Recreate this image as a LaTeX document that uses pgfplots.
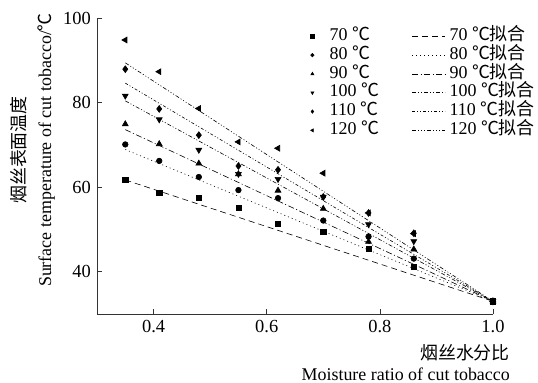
\documentclass[border=0pt]{standalone}
\usepackage{pgfplots}
\pgfplotsset{compat=1.18}
\usepackage{fontspec}
\setmainfont{Liberation Serif}
\newfontfamily\cjk{Noto Sans CJK SC}
\newcommand{\dc}{{\cjk ℃}}
\newcommand{\fit}{{\cjk ℃拟合}}
\begin{document}
\fontsize{18}{20}\selectfont
\begin{tikzpicture}
\pgfplotsset{
  markleg/.style={legend image code/.code={\draw[##1,mark size=1.7bp] plot coordinates {(6bp,0bp)}; \path (0bp,0bp) (19bp,0bp);}},
  lineleg/.style={legend image code/.code={\draw[##1] (0bp,0bp) -- (33bp,0bp);}},
}
\begin{axis}[
  name=ax,
  scale only axis, width=396bp, height=296bp,
  xmin=0.3, xmax=1.0, ymin=30, ymax=100,
  axis lines=left, axis line style={-, line width=0.7bp, black!80},
  xtick={0.4,0.6,0.8,1.0}, ytick={40,60,80,100},
  tick align=inside, major tick length=5bp,
  tick style={line width=0.7bp, black!80},
  xticklabel style={/pgf/number format/.cd, fixed, fixed zerofill, precision=1},
  /pgf/number format/assume math mode=true,
  tick label style={font=\fontsize{18.5}{20}\selectfont},
  xlabel={{\cjk 烟丝水分比}\\Moisture ratio of cut tobacco},
  xlabel style={at={(rel axis cs:1,0)}, anchor=north east, align=right, xshift=23bp, yshift=-24bp, font=\fontsize{18}{21}\selectfont},
  ylabel={{\cjk 烟丝表面温度}\\Surface temperature of cut tobacco/\dc},
  ylabel style={at={(rel axis cs:0,0.554)}, anchor=south, align=center, rotate=0, yshift=36bp, font=\fontsize{18}{26}\selectfont},
  legend columns=2,
  legend cell align=left,
  legend style={at={(rel axis cs:0.52,0.975)}, anchor=north west, draw=none, fill=none,
    font=\fontsize{18}{20}\selectfont, row sep=1.3bp, column sep=3bp,
    nodes={inner sep=1bp, text height=12bp, text depth=3.5bp},
    /tikz/every even column/.append style={column sep=32bp}},
  every axis plot/.append style={black, line width=0.6bp},
]
% 70
\addplot[only marks, mark=square*, mark size=2.6bp, markleg] coordinates {
(0.35,61.7)(0.41,58.7)(0.48,57.5)(0.55,55.2)(0.62,51.3)(0.70,49.5)(0.78,45.4)(0.86,41.2)(1.0,33)};
\addlegendentry{70 \dc}
\addplot[lineleg, dash pattern=on 6bp off 4bp] coordinates {(0.35,61.7)(1.0,33)};
\addlegendentry{70 \fit}
% 80
\addplot[only marks, mark=*, mark size=2.8bp, markleg] coordinates {
(0.35,70.1)(0.41,66.2)(0.48,62.4)(0.55,59.3)(0.62,57.4)(0.70,52.1)(0.78,48.3)(0.86,43.1)(1.0,33)};
\addlegendentry{80 \dc}
\addplot[lineleg, dash pattern=on 1bp off 3bp] coordinates {(0.35,68.9)(1.0,33)};
\addlegendentry{80 \fit}
% 90
\addplot[only marks, mark=triangle*, mark size=3.4bp, markleg] coordinates {
(0.35,74.9)(0.41,70.2)(0.48,65.6)(0.55,63.1)(0.62,59.2)(0.70,54.9)(0.78,47.1)(0.86,45.3)(1.0,33)};
\addlegendentry{90 \dc}
\addplot[lineleg, dash pattern=on 6bp off 2.5bp on 1bp off 2.5bp] coordinates {(0.35,73.6)(1.0,33)};
\addlegendentry{90 \fit}
% 100
\addplot[only marks, mark=triangle*, mark options={rotate=180}, mark size=3.4bp, markleg] coordinates {
(0.35,81.6)(0.41,76.0)(0.48,68.8)(0.55,63.1)(0.62,61.9)(0.70,57.7)(0.78,51.2)(0.86,47.2)(1.0,33)};
\addlegendentry{100 \dc}
\addplot[lineleg, dash pattern=on 4bp off 2bp on 1bp off 2bp on 1bp off 2bp] coordinates {(0.35,80.4)(1.0,33)};
\addlegendentry{100 \fit}
% 110
\addplot[only marks, mark=diamond*, mark size=3.4bp, markleg] coordinates {
(0.35,87.9)(0.41,78.5)(0.48,72.3)(0.55,65.0)(0.62,64.1)(0.70,57.7)(0.78,53.9)(0.86,49.1)(1.0,33)};
\addlegendentry{110 \dc}
\addplot[lineleg, dash pattern=on 3bp off 2bp on 1bp off 2bp on 1bp off 2bp] coordinates {(0.35,84.6)(1.0,33)};
\addlegendentry{110 \fit}
% 120
\addplot[only marks, mark=triangle*, mark options={rotate=90}, mark size=3.4bp, markleg] coordinates {
(0.35,94.8)(0.41,87.3)(0.48,78.6)(0.55,70.7)(0.62,69.2)(0.70,63.3)(0.78,53.9)(0.86,49.0)(1.0,33)};
\addlegendentry{120 \dc}
\addplot[lineleg, dash pattern=on 4bp off 2bp on 1bp off 2bp on 1bp off 2bp on 1bp off 2bp] coordinates {(0.35,89.4)(1.0,33)};
\addlegendentry{120 \fit}
\end{axis}
\pgfresetboundingbox
\path ([shift={(-97bp,-69bp)}]ax.south west) rectangle ([shift={(441bp,314bp)}]ax.south west);
\end{tikzpicture}
\end{document}
